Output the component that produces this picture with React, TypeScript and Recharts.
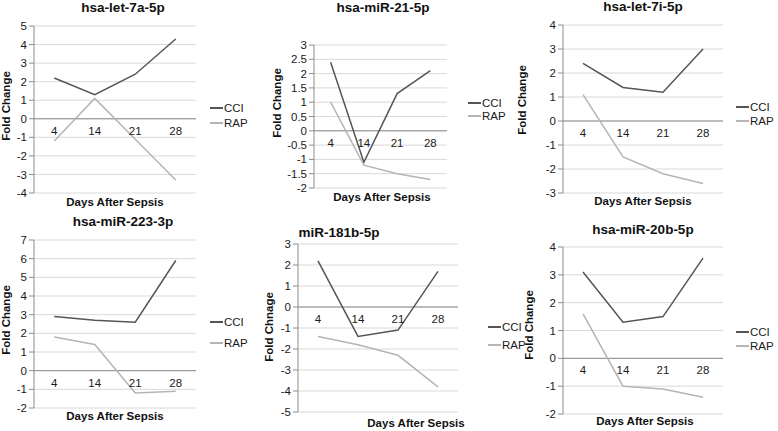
import React from 'react';
import { LineChart, Line, XAxis, YAxis, CartesianGrid, ReferenceDot, ReferenceLine } from 'recharts';

const days = ['4', '14', '21', '28'];

const let7aCCI = [2.2, 1.3, 2.4, 4.3];
const let7aRAP = [-1.2, 1.1, -1.1, -3.3];
const mir21CCI = [2.4, -1.1, 1.3, 2.1];
const mir21RAP = [1.0, -1.2, -1.5, -1.7];
const let7iCCI = [2.4, 1.4, 1.2, 3.0];
const let7iRAP = [1.1, -1.5, -2.2, -2.6];
const mir223CCI = [2.9, 2.7, 2.6, 5.9];
const mir223RAP = [1.8, 1.4, -1.2, -1.1];
const mir181CCI = [2.2, -1.4, -1.1, 1.7];
const mir181RAP = [-1.4, -1.8, -2.3, -3.8];
const mir20bCCI = [3.1, 1.3, 1.5, 3.6];
const mir20bRAP = [1.6, -1.0, -1.1, -1.4];

const ticks1 = [-4, -3, -2, -1, 0, 1, 2, 3, 4, 5];
const ticks2 = [-2, -1.5, -1, -0.5, 0, 0.5, 1, 1.5, 2, 2.5, 3];
const ticks3 = [-3, -2, -1, 0, 1, 2, 3, 4];
const ticks4 = [-2, -1, 0, 1, 2, 3, 4, 5, 6, 7];
const ticks5 = [-5, -4, -3, -2, -1, 0, 1, 2, 3];
const ticks6 = [-2, -1, 0, 1, 2, 3, 4];

const W = 778;
const H = 431;
const FONT = '"Liberation Sans", Arial, sans-serif';
const CCI_COLOR = '#555555';
const RAP_COLOR = '#b5b5b5';

const build = (cci: number[], rap: number[]) =>
  days.map((d, i) => ({ day: d, CCI: cci[i], RAP: rap[i] }));

type Panel = {
  title: string;
  ylabel: string;
  cci: number[];
  rap: number[];
  ticks: number[];
  L: number; R: number; T: number; B: number;
  titleX: number; titleY: number;
  ylX: number; ylY: number;
  xlX: number; xlY: number;
  lgX: number; lgY1: number; lgY2: number;
};

const panels: Panel[] = [
  { title: 'hsa-let-7a-5p', ylabel: 'Fold Change', cci: let7aCCI, rap: let7aRAP, ticks: ticks1,
    L: 34, R: 196, T: 26, B: 193, titleX: 123, titleY: 8, ylX: 7, ylY: 106, xlX: 115, xlY: 203,
    lgX: 210, lgY1: 108, lgY2: 123 },
  { title: 'hsa-miR-21-5p', ylabel: 'Fold Change', cci: mir21CCI, rap: mir21RAP, ticks: ticks2,
    L: 314, R: 447, T: 45, B: 188, titleX: 383, titleY: 8, ylX: 278, ylY: 103, xlX: 382, xlY: 198,
    lgX: 468, lgY1: 103, lgY2: 116 },
  { title: 'hsa-let-7i-5p', ylabel: 'Fold Change', cci: let7iCCI, rap: let7iRAP, ticks: ticks3,
    L: 563, R: 723, T: 25, B: 193, titleX: 643, titleY: 7, ylX: 523, ylY: 100, xlX: 643, xlY: 202,
    lgX: 736, lgY1: 107, lgY2: 121 },
  { title: 'hsa-miR-223-3p', ylabel: 'Fold Change', cci: mir223CCI, rap: mir223RAP, ticks: ticks4,
    L: 34, R: 196, T: 240, B: 408, titleX: 123, titleY: 222, ylX: 7, ylY: 320, xlX: 115, xlY: 417,
    lgX: 210, lgY1: 322, lgY2: 343 },
  { title: 'miR-181b-5p', ylabel: 'Fold Chnage', cci: mir181CCI, rap: mir181RAP, ticks: ticks5,
    L: 298, R: 458, T: 244, B: 412, titleX: 339, titleY: 233, ylX: 270, ylY: 327, xlX: 416, xlY: 424,
    lgX: 488, lgY1: 327, lgY2: 345 },
  { title: 'hsa-miR-20b-5p', ylabel: 'Fold Change', cci: mir20bCCI, rap: mir20bRAP, ticks: ticks6,
    L: 563, R: 723, T: 247, B: 414, titleX: 643, titleY: 230, ylX: 530, ylY: 325, xlX: 645, xlY: 422,
    lgX: 736, lgY1: 332, lgY2: 346 },
];

const centered = (x: number, y: number, extra: React.CSSProperties = {}): React.CSSProperties => ({
  position: 'absolute',
  left: x,
  top: y,
  transform: 'translate(-50%, -50%)',
  whiteSpace: 'nowrap',
  fontFamily: FONT,
  lineHeight: 1,
  ...extra,
});

const YW = 30;

function PanelChart({ p }: { p: Panel }) {
  const data = build(p.cci, p.rap);
  const min = p.ticks[0];
  const max = p.ticks[p.ticks.length - 1];
  return (
    <div style={{ position: 'absolute', left: 0, top: 0, width: W, height: H, pointerEvents: 'none' }}>
      <LineChart
        width={W}
        height={H}
        data={data}
        margin={{ top: p.T, bottom: H - p.B, left: p.L - YW, right: W - p.R }}
      >
        <CartesianGrid vertical={false} stroke="#d9d9d9" />
        <XAxis dataKey="day" type="category" scale="band" hide />
        <YAxis
          width={YW}
          type="number"
          domain={[min, max]}
          ticks={p.ticks}
          interval={0}
          tickSize={5}
          tickMargin={2}
          axisLine={{ stroke: '#8c8c8c' }}
          tickLine={{ stroke: '#8c8c8c' }}
          tick={{ fill: '#1a1a1a', fontSize: 11.5, fontFamily: FONT }}
        />
        <ReferenceLine y={0} stroke="#8c8c8c" />
        {days.map((d) => (
          <ReferenceDot
            key={d}
            x={d}
            y={0}
            r={0}
            stroke="none"
            fill="none"
            label={{ value: d, position: 'bottom', offset: 8, fill: '#1a1a1a', fontSize: 11.5, fontFamily: FONT }}
          />
        ))}
        <Line type="linear" dataKey="CCI" stroke={CCI_COLOR} strokeWidth={1.5} dot={false} isAnimationActive={false} />
        <Line type="linear" dataKey="RAP" stroke={RAP_COLOR} strokeWidth={1.5} dot={false} isAnimationActive={false} />
      </LineChart>
      <div style={centered(p.titleX, p.titleY, { fontSize: 13.5, fontWeight: 'bold', color: '#111' })}>{p.title}</div>
      <div style={centered(p.ylX, p.ylY, { fontSize: 11.5, fontWeight: 'bold', color: '#111', transform: 'translate(-50%, -50%) rotate(-90deg)' })}>{p.ylabel}</div>
      <div style={centered(p.xlX, p.xlY, { fontSize: 11.5, fontWeight: 'bold', color: '#111' })}>Days After Sepsis</div>
      {[{ name: 'CCI', color: CCI_COLOR, y: p.lgY1 }, { name: 'RAP', color: RAP_COLOR, y: p.lgY2 }].map((it) => (
        <div key={it.name} style={{ position: 'absolute', left: p.lgX, top: it.y - 6, height: 12, display: 'flex', alignItems: 'center', fontFamily: FONT, fontSize: 11.5, color: '#1a1a1a' }}>
          <div style={{ width: 13, height: 1.5, background: it.color, marginRight: 1 }} />
          <span>{it.name}</span>
        </div>
      ))}
    </div>
  );
}

export default function App() {
  return (
    <div style={{ position: 'absolute', left: 0, top: 0, width: W, height: H, background: '#fff', overflow: 'hidden' }}>
      {panels.map((p) => (
        <PanelChart key={p.title} p={p} />
      ))}
    </div>
  );
}
